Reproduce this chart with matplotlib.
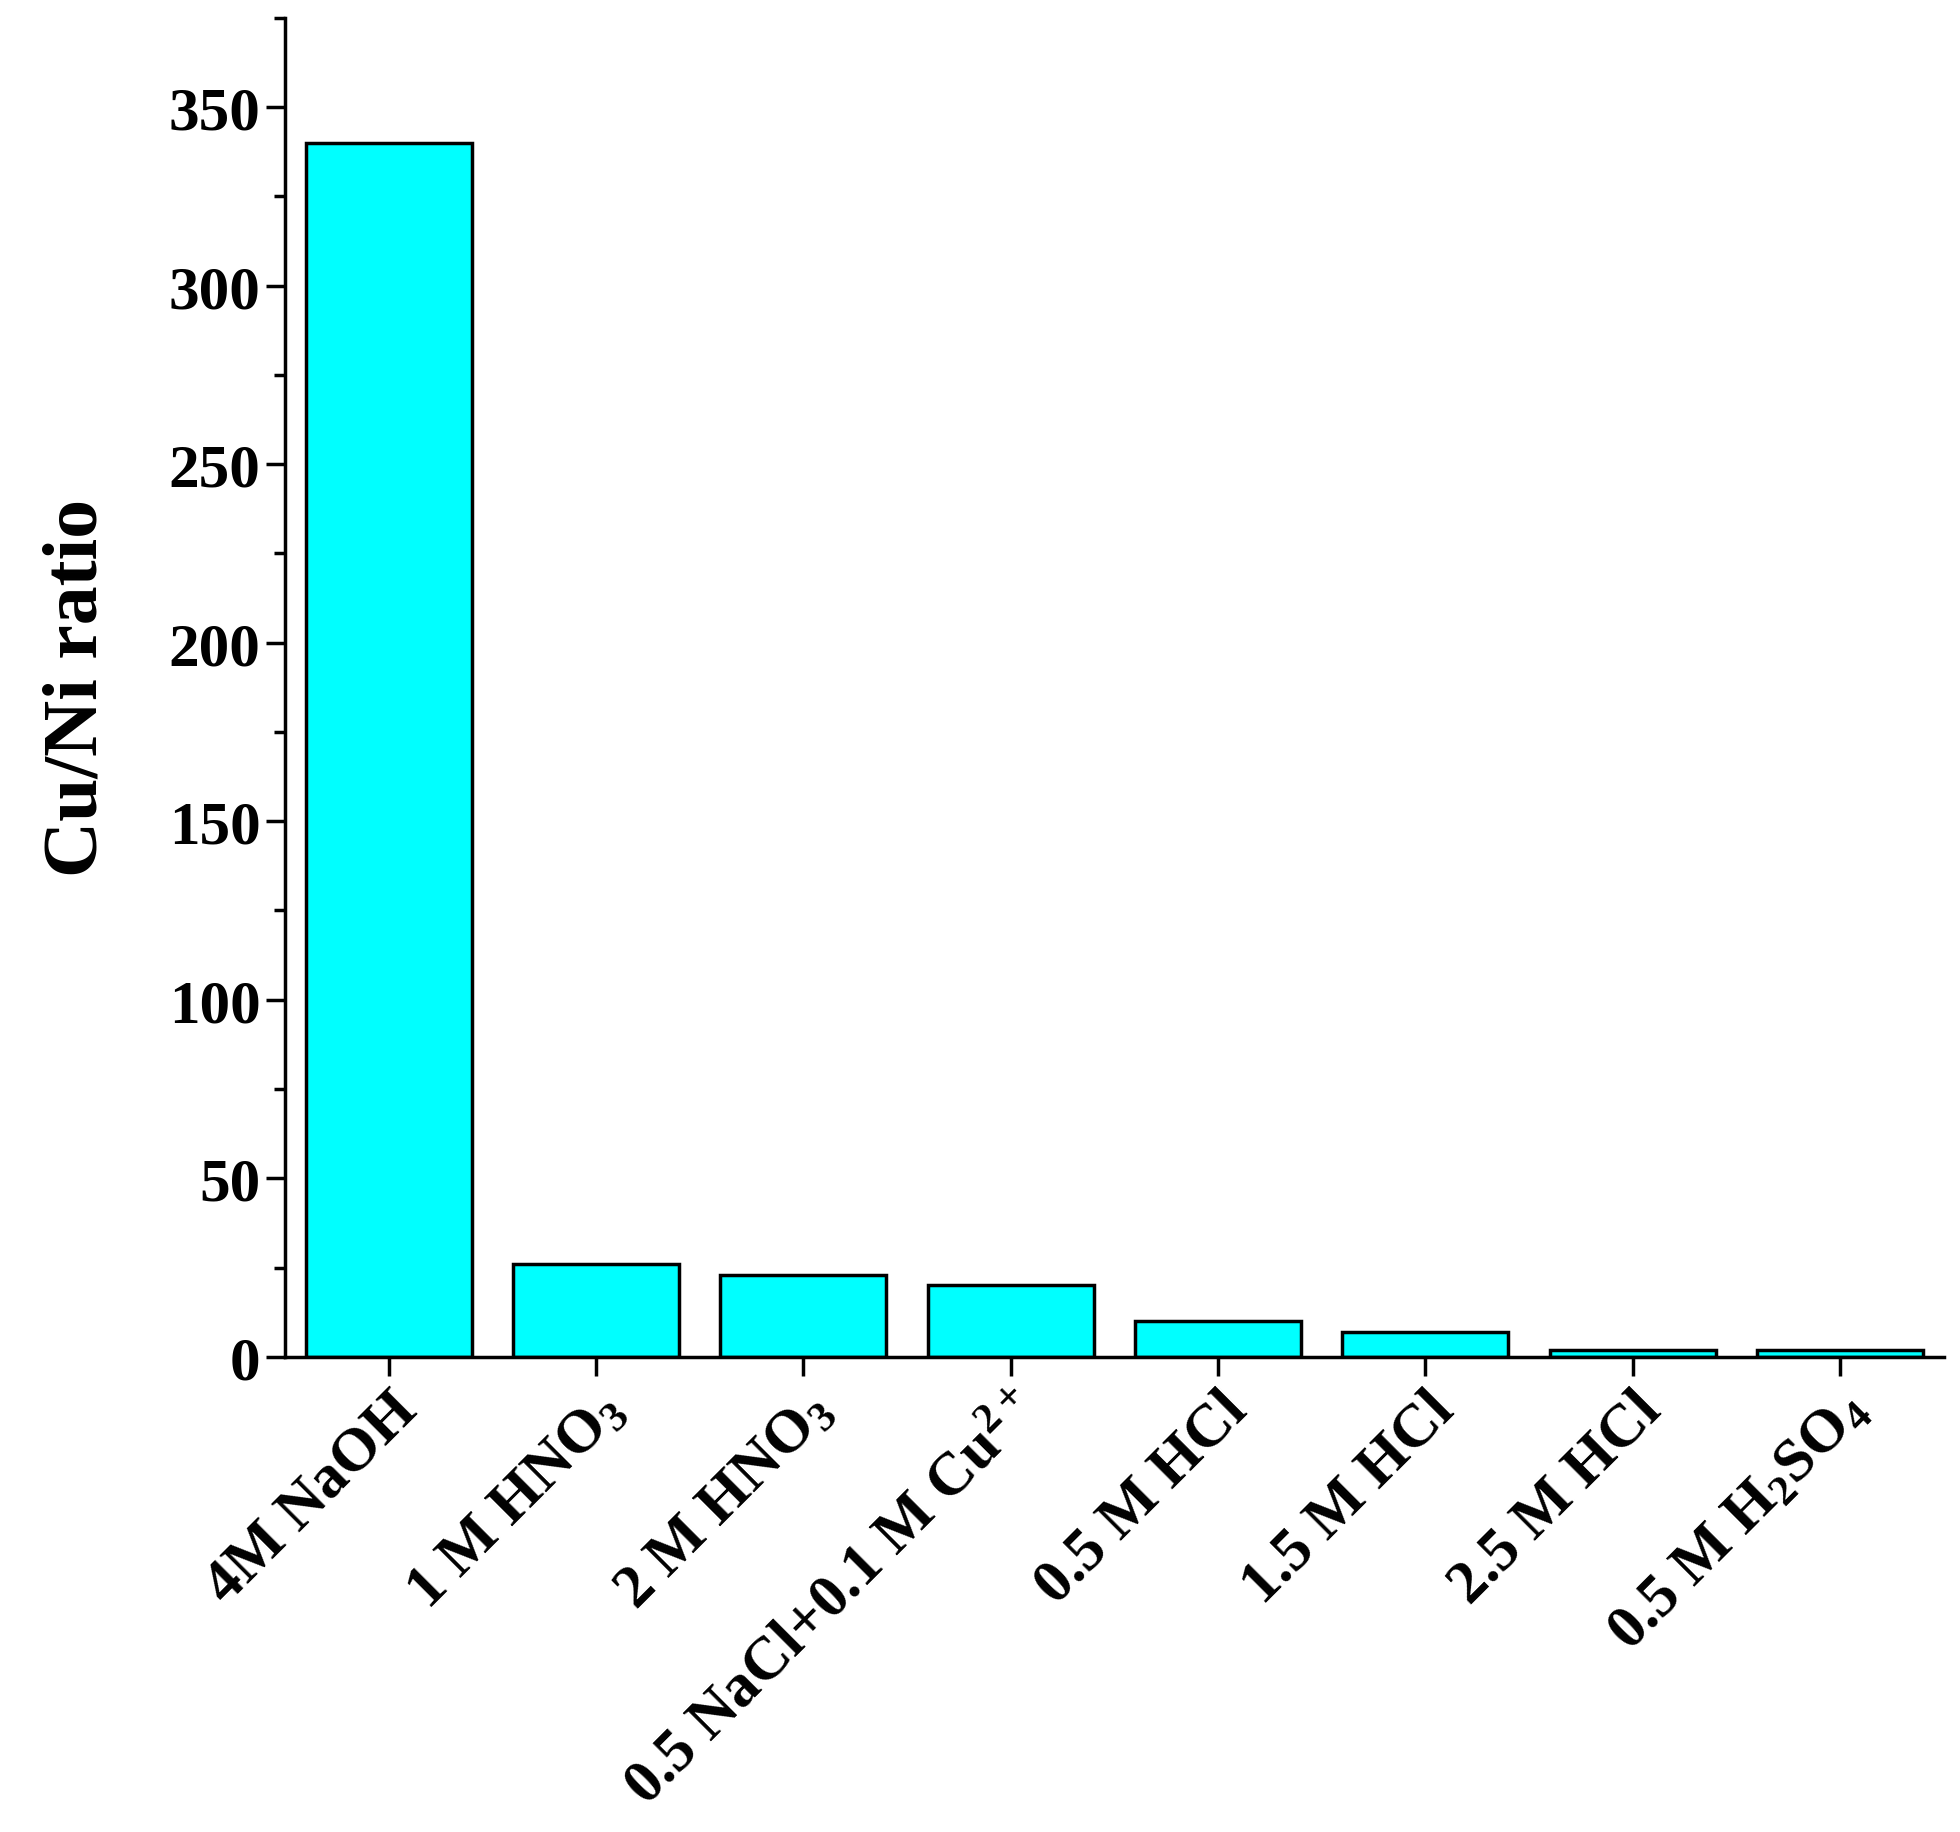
import matplotlib
matplotlib.use("Agg")
import matplotlib.pyplot as plt
from matplotlib.ticker import MultipleLocator

plt.rcParams["font.family"] = ["Liberation Serif", "DejaVu Serif"]
plt.rcParams["font.weight"] = "bold"
plt.rcParams["mathtext.fontset"] = "custom"
plt.rcParams["mathtext.rm"] = "Liberation Serif:bold"
plt.rcParams["mathtext.it"] = "Liberation Serif:bold"
plt.rcParams["mathtext.bf"] = "Liberation Serif:bold"
plt.rcParams["mathtext.default"] = "rm"

CYAN = "#00ffff"

categories = ["4M NaOH", "1 M HNO$_3$", "2 M HNO$_3$", "0.5 NaCl+0.1 M Cu$^{2+}$",
              "0.5 M HCl", "1.5 M HCl", "2.5 M HCl", "0.5 M H$_2$SO$_4$"]
ratios = [340, 26, 23, 20, 10, 7, 2, 2]

fig = plt.figure(figsize=(19.6, 18.33), dpi=100)
ax = fig.add_axes([0.1454, 0.2592, 0.8463, 0.7306])
x = range(len(categories))
ax.bar(x, ratios, width=0.8, color=CYAN, edgecolor="black", linewidth=2.5)
ax.set_xlim(-0.5, 7.5)
ax.set_ylim(0, 375)
ax.set_xticks(list(x))
ax.set_xticklabels(categories, rotation=45, ha="right", rotation_mode="anchor",
                   fontsize=44, fontweight="bold")
ax.yaxis.set_major_locator(MultipleLocator(50))
ax.yaxis.set_minor_locator(MultipleLocator(25))
ax.tick_params(axis="both", which="major", direction="out", length=14, width=2.5,
               labelsize=44)
ax.tick_params(axis="y", which="minor", direction="out", length=8, width=2.5)
for lab in ax.get_yticklabels():
    lab.set_fontweight("bold")
ax.set_ylabel("Cu/Ni ratio", fontsize=56, fontweight="bold", labelpad=40)
ax.spines[["top", "right"]].set_visible(False)
for s in ("left", "bottom"):
    ax.spines[s].set_linewidth(2.5)

fig.savefig("out.png", dpi=100)
